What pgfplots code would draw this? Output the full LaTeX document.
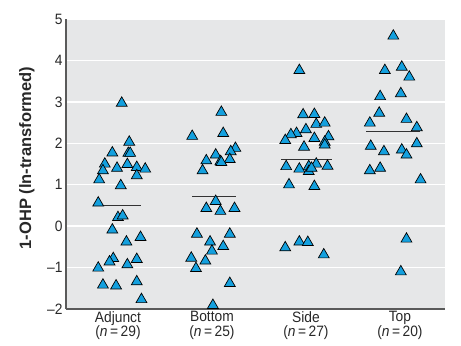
\documentclass[border=0pt]{standalone}
\usepackage{pgfplots}
\pgfplotsset{compat=1.18}
\usepackage{fontspec}
\setmainfont{Liberation Sans}
\newfontfamily\tickfont{Liberation Sans}[FakeStretch=0.92]
\definecolor{bg}{RGB}{230,231,232}
\definecolor{tri}{RGB}{20,160,222}
\definecolor{axgray}{RGB}{90,90,90}
\definecolor{txt}{RGB}{40,40,40}
\begin{document}
\begin{tikzpicture}
\begin{axis}[name=ax, scale only axis, width=379bp, height=290bp,
  xmin=0.447, xmax=4.48, ymin=-2, ymax=5, clip=false,
  axis background/.style={fill=bg},
  axis x line*=bottom, axis y line*=left,
  x axis line style={draw=axgray, line width=2bp},
  y axis line style={draw=axgray, line width=1.5bp},
  xtick={1,2,3,4}, ytick={-2,-1,0,1,2,3,4,5},
  yticklabels={–2,–1,0,1,2,3,4,5},
  xticklabels={{Adjunct\\(\textit{n}\,=\,29)},{Bottom\\(\textit{n}\,=\,25)},{Side\\(\textit{n}\,=\,27)},{Top\\(\textit{n}\,=\,20)}},
  xticklabel style={align=center, text=txt, font=\tickfont\fontsize{15bp}{14.5bp}\selectfont, yshift=1bp},
  yticklabel style={text=txt, font=\tickfont\fontsize{15bp}{15bp}\selectfont},
  major tick length=0pt,
  ymajorgrids, grid style={white, line width=1.5bp},
  ylabel={1-OHP (ln-transformed)},
  ylabel style={text=txt, font=\bfseries\fontsize{16.5bp}{16.5bp}\selectfont, at={(axis description cs:-0.103,0.52)}, anchor=center},
]
% mean lines
\addplot[draw=black!80, line width=1bp] coordinates {(0.80,0.51) (1.25,0.51)};
\addplot[draw=black!80, line width=1bp] coordinates {(1.79,0.72) (2.26,0.72)};
\addplot[draw=black!80, line width=1bp] coordinates {(2.74,1.61) (3.28,1.61)};
\addplot[draw=black!80, line width=1bp] coordinates {(3.64,2.29) (4.21,2.29)};
% Adjunct
\addplot[only marks, mark=triangle*, mark size=6.3pt, mark options={fill=tri, draw=black, line width=0.7bp}] coordinates {
(1.04,2.97) (1.12,2.03) (0.94,1.77) (1.11,1.76) (1.13,1.76) (0.86,1.50) (0.84,1.34)
(0.99,1.40) (1.10,1.49) (1.20,1.42) (1.29,1.38) (1.20,1.22) (0.80,1.12) (1.03,0.98)
(0.79,0.56) (1.00,0.21) (1.05,0.25) (0.94,-0.09) (1.09,-0.38) (1.24,-0.27) (0.95,-0.78)
(0.91,-0.86) (0.79,-1.01) (1.10,-0.93) (1.20,-0.80) (0.84,-1.42) (0.98,-1.44) (1.20,-1.34) (1.25,-1.77)};
% Bottom
\addplot[only marks, mark=triangle*, mark size=6.3pt, mark options={fill=tri, draw=black, line width=0.7bp}] coordinates {
(2.10,2.75) (1.79,2.17) (2.12,2.24) (2.25,1.88) (2.20,1.80) (2.04,1.72) (1.94,1.58)
(2.09,1.56) (2.19,1.61) (1.90,1.34) (2.10,1.54) (2.04,0.60) (1.94,0.43) (2.09,0.36)
(2.24,0.43) (1.84,-0.19) (2.19,-0.19) (1.98,-0.38) (2.12,-0.49) (2.00,-0.60) (1.78,-0.77)
(1.93,-0.84) (1.83,-1.02) (2.19,-1.38) (2.01,-1.91)};
% Side
\addplot[only marks, mark=triangle*, mark size=6.3pt, mark options={fill=tri, draw=black, line width=0.7bp}] coordinates {
(2.93,3.76) (2.97,2.69) (3.09,2.70) (3.11,2.46) (3.20,2.49) (3.00,2.33) (2.90,2.24)
(2.84,2.21) (2.78,2.07) (3.09,2.12) (3.24,2.16) (3.20,2.03) (3.20,1.96) (2.98,1.91)
(2.79,1.44) (2.93,1.38) (3.03,1.44) (3.11,1.50) (3.23,1.45) (3.03,1.32) (3.06,1.40)
(2.82,1.00) (3.09,0.96) (2.78,-0.52) (2.93,-0.38) (3.02,-0.39) (3.19,-0.69)};
% Top
\addplot[only marks, mark=triangle*, mark size=6.3pt, mark options={fill=tri, draw=black, line width=0.7bp}] coordinates {
(3.93,4.59) (3.84,3.76) (4.02,3.84) (4.10,3.60) (3.79,3.13) (4.01,3.20) (3.78,2.73)
(3.68,2.49) (4.07,2.58) (4.18,2.38) (3.69,1.93) (3.83,1.80) (4.02,1.84) (4.07,1.72)
(4.18,1.99) (3.68,1.34) (3.79,1.40) (4.22,1.12) (4.07,-0.31) (4.01,-1.10)};
\end{axis}
\pgfresetboundingbox
\path ([shift={(-66bp,-37bp)}]ax.south west) rectangle ([shift={(16bp,19bp)}]ax.north east);
\end{tikzpicture}
\end{document}
